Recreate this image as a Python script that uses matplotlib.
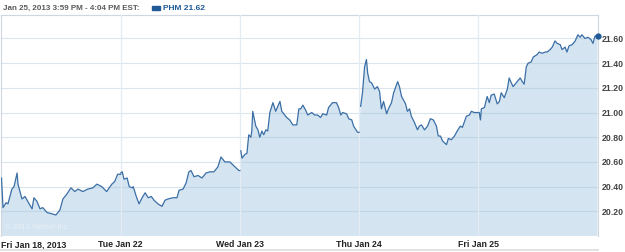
import numpy as np
import matplotlib
matplotlib.use("Agg")
import matplotlib.pyplot as plt

# PHM intraday, 5 trading days, minutes since 9:30 open
day_labels = ["Fri Jan 18, 2013", "Tue Jan 22", "Wed Jan 23", "Thu Jan 24", "Fri Jan 25"]

d1_min = [0, 5, 15, 21, 34, 41, 51, 54, 67, 77, 86, 100, 106, 116, 126, 135, 149, 165, 178, 191,
          201, 214, 227, 240, 250, 266, 282, 299, 312, 328, 344, 361, 370, 380, 390]
d1_px = [20.47, 20.23, 20.27, 20.26, 20.38, 20.40, 20.51, 20.42, 20.30, 20.32, 20.28, 20.22, 20.31,
         20.28, 20.22, 20.23, 20.19, 20.18, 20.17, 20.21, 20.30, 20.34, 20.39, 20.36, 20.38, 20.36,
         20.38, 20.39, 20.42, 20.40, 20.36, 20.42, 20.44, 20.50, 20.50]

d2_min = [0, 5, 11, 21, 28, 38, 41, 51, 60, 70, 80, 90, 100, 109, 122, 135, 145, 155, 171, 184,
          191, 204, 214, 223, 230, 240, 253, 266, 279, 292, 305, 318, 328, 341, 357, 374, 387, 390]
d2_px = [20.51, 20.52, 20.46, 20.47, 20.40, 20.39, 20.40, 20.32, 20.26, 20.31, 20.35, 20.31, 20.32,
         20.29, 20.26, 20.24, 20.29, 20.30, 20.31, 20.31, 20.37, 20.38, 20.43, 20.52, 20.53, 20.48,
         20.49, 20.47, 20.51, 20.52, 20.52, 20.56, 20.64, 20.60, 20.60, 20.56, 20.53, 20.53]

d3_min = [3, 7, 16, 23, 29, 36, 39, 42, 52, 59, 65, 72, 78, 85, 91, 98, 108, 117, 131, 137, 153,
          163, 173, 186, 193, 199, 206, 215, 222, 235, 245, 254, 264, 271, 284, 290, 303, 316, 323,
          330, 336, 349, 356, 366, 372, 385, 390]
d3_px = [20.69, 20.63, 20.66, 20.67, 20.82, 20.80, 20.85, 21.01, 20.89, 20.86, 20.80, 20.85, 20.82,
         20.86, 20.85, 21.00, 21.08, 21.01, 21.09, 21.01, 20.96, 20.94, 20.90, 20.90, 21.03, 21.03,
         21.06, 21.02, 20.98, 21.00, 20.98, 20.98, 20.96, 20.99, 20.98, 21.04, 21.08, 21.08, 21.04,
         20.98, 21.00, 20.99, 20.95, 20.94, 20.89, 20.84, 20.84]

d4_min = [5, 11, 18, 24, 28, 34, 41, 51, 60, 67, 73, 80, 90, 96, 106, 113, 126, 132, 139, 152,
          158, 165, 171, 181, 191, 197, 204, 214, 224, 233, 243, 253, 259, 266, 273, 286, 292, 302,
          312, 321, 331, 338, 351, 361, 367, 377, 390]
d4_px = [21.05, 21.16, 21.37, 21.43, 21.32, 21.25, 21.24, 21.19, 21.21, 21.17, 21.03, 21.09, 20.99,
         21.03, 21.08, 21.16, 21.25, 21.21, 21.13, 21.07, 21.01, 21.03, 20.97, 20.92, 20.86, 20.89,
         20.90, 20.86, 20.89, 20.95, 20.94, 20.89, 20.81, 20.81, 20.77, 20.74, 20.79, 20.78, 20.81,
         20.85, 20.89, 20.88, 20.97, 20.98, 21.01, 21.00, 21.00]

d5_min = [3, 7, 10, 20, 29, 36, 42, 52, 62, 69, 75, 85, 95, 101, 108, 114, 127, 137, 144, 150,
          157, 163, 173, 180, 193, 199, 209, 219, 225, 235, 242, 251, 258, 268, 274, 284, 290, 297,
          307, 317, 326, 333, 339, 349, 359, 369, 375, 382, 390]
d5_px = [21.00, 20.94, 21.03, 21.04, 21.13, 21.08, 21.14, 21.15, 21.07, 21.09, 21.16, 21.12, 21.19,
         21.28, 21.24, 21.21, 21.25, 21.28, 21.25, 21.23, 21.37, 21.40, 21.41, 21.45, 21.47, 21.49,
         21.48, 21.49, 21.49, 21.51, 21.53, 21.58, 21.56, 21.55, 21.51, 21.53, 21.49, 21.54, 21.55,
         21.58, 21.63, 21.61, 21.63, 21.60, 21.61, 21.59, 21.56, 21.62, 21.62]

y_ticks = [20.20, 20.40, 20.60, 20.80, 21.00, 21.20, 21.40, 21.60]
last_price = 21.62

days_min = [d1_min, d2_min, d3_min, d4_min, d5_min]
days_px = [d1_px, d2_px, d3_px, d4_px, d5_px]

W, H = 625, 252
fig = plt.figure(figsize=(W / 100, H / 100), dpi=100)
fig.patch.set_facecolor("white")
ax = fig.add_axes([1.5 / W, 16 / H, 596 / W, 221 / H])
ax.set_facecolor("white")

line_col = "#3b6fa6"
fill_col = "#d4e4f1"

all_x = []
all_y = []
for i, (m, p) in enumerate(zip(days_min, days_px)):
    xs = np.array(m) + i * 390
    all_x.extend(xs)
    all_y.extend(p)
    ax.plot(xs, p, color=line_col, lw=0.9, zorder=4, solid_joinstyle="round")

ax.fill_between(all_x, all_y, 19.5, color=fill_col, lw=0, zorder=2)

ax.set_xlim(0, 1950)
ax.set_ylim(20.0, 21.79)

# gridlines
for v in y_ticks:
    ax.axhline(v, color="#a9bfd2", alpha=0.4, lw=0.8, zorder=3)
for i in range(1, 5):
    ax.axvline(i * 390, color="#e4ebf1", lw=0.9, zorder=3)

ax.plot([1950], [last_price], "o", color="#1f5a96", ms=3.5, zorder=5, clip_on=False)

for s in ["top", "left", "right"]:
    ax.spines[s].set_color("#cfd8e0")
    ax.spines[s].set_linewidth(0.8)
ax.spines["bottom"].set_visible(False)

ax.yaxis.tick_right()
ax.set_yticks(y_ticks)
ax.set_yticklabels(["%.2f" % v for v in y_ticks], fontsize=6.3, fontweight="bold",
                   color="#444444", family="Liberation Sans")
ax.tick_params(axis="y", length=0, pad=3)

ax.set_xticks([i * 390 for i in range(5)])
ax.set_xticklabels(day_labels, fontsize=6.3, fontweight="bold", color="#222222",
                   family="Liberation Sans")
ax.tick_params(axis="x", length=0, pad=3)
ax.get_xticklabels()[0].set_ha("left")

ax.text(0.006, 0.03, "\u00a9 2013 Yahoo! Inc.", transform=ax.transAxes, fontsize=5.5,
        color="#eaf0f5", family="Liberation Sans", zorder=6)

# header
fig.text(3 / W, 1 - 8 / H, "Jan 25, 2013 3:59 PM - 4:04 PM EST:", fontsize=5.8,
         fontweight="bold", color="#5a5a5a", family="Liberation Sans", va="center")
fig.patches.append(plt.Rectangle((152 / W, 1 - 10 / H), 8 / W, 4 / H, color="#1f5a96",
                                 transform=fig.transFigure, figure=fig))
fig.text(163 / W, 1 - 8 / H, "PHM 21.62", fontsize=6.0, fontweight="bold", color="#1f5a96",
         family="Liberation Sans", va="center")

# bottom rule
fig.add_artist(plt.Line2D([0, 598 / W], [1 - 250 / H, 1 - 250 / H], color="#dddddd", lw=1.2,
                          transform=fig.transFigure))

fig.savefig("out.png", dpi=100)
